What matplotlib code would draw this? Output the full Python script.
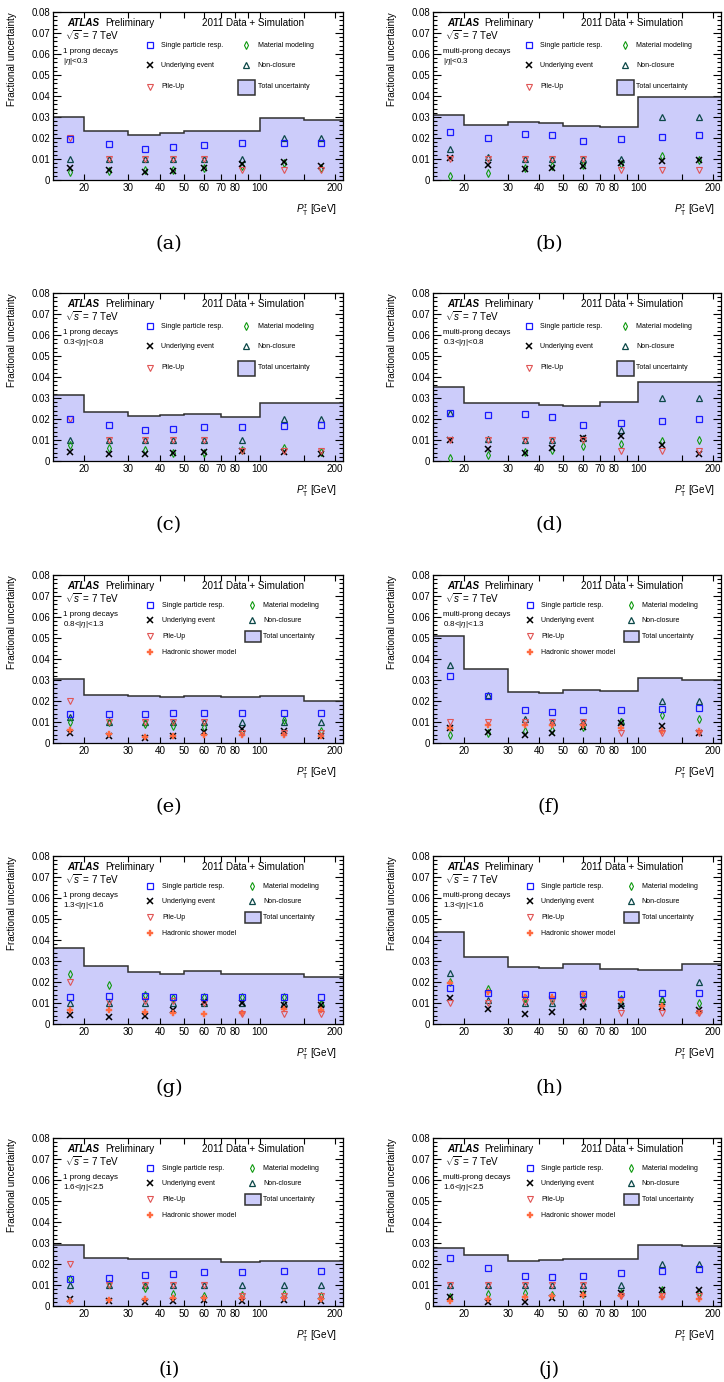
import matplotlib
matplotlib.use("Agg")
import matplotlib.pyplot as plt
from matplotlib.patches import Rectangle
from matplotlib.ticker import FixedLocator, FuncFormatter, MultipleLocator, NullFormatter

plt.rcParams['font.family'] = ['Liberation Sans', 'DejaVu Sans']
plt.rcParams['mathtext.fontset'] = 'custom'
plt.rcParams['mathtext.rm'] = 'Liberation Sans'
plt.rcParams['mathtext.it'] = 'Liberation Sans:italic'

# ---------------- data ----------------
pt_centers = [17.5, 25, 35, 45, 60, 85, 125, 175]
bin_edges = [15, 20, 30, 40, 50, 70, 100, 150, 215]
panel_tags = ['(a)', '(b)', '(c)', '(d)', '(e)', '(f)', '(g)', '(h)', '(i)', '(j)']
decay_labels = ['1 prong decays', 'multi-prong decays'] * 5
eta_labels = [r'$|\eta|$<0.3', r'$|\eta|$<0.3',
              r'0.3<$|\eta|$<0.8', r'0.3<$|\eta|$<0.8',
              r'0.8<$|\eta|$<1.3', r'0.8<$|\eta|$<1.3',
              r'1.3<$|\eta|$<1.6', r'1.3<$|\eta|$<1.6',
              r'1.6<$|\eta|$<2.5', r'1.6<$|\eta|$<2.5']

single_particle = [
    [0.0196, 0.0172, 0.0148, 0.0159, 0.0165, 0.0178, 0.0177, 0.0177],
    [0.0229, 0.0199, 0.0220, 0.0215, 0.0186, 0.0197, 0.0207, 0.0213],
    [0.0202, 0.0173, 0.0148, 0.0153, 0.0162, 0.0162, 0.0167, 0.0173],
    [0.0229, 0.0218, 0.0226, 0.0210, 0.0173, 0.0183, 0.0191, 0.0199],
    [0.0137, 0.0137, 0.0139, 0.0143, 0.0143, 0.0143, 0.0143, 0.0142],
    [0.0319, 0.0226, 0.0159, 0.0148, 0.0155, 0.0159, 0.0161, 0.0167],
    [0.0130, 0.0131, 0.0133, 0.0130, 0.0130, 0.0128, 0.0128, 0.0128],
    [0.0170, 0.0146, 0.0141, 0.0139, 0.0143, 0.0143, 0.0147, 0.0147],
    [0.0129, 0.0131, 0.0147, 0.0153, 0.0160, 0.0163, 0.0166, 0.0169],
    [0.0227, 0.0180, 0.0141, 0.0139, 0.0144, 0.0158, 0.0169, 0.0174],
]
underlying_event = [
    [0.0056, 0.0048, 0.0037, 0.0043, 0.0059, 0.0075, 0.0084, 0.0067],
    [0.0105, 0.0072, 0.0052, 0.0056, 0.0068, 0.0080, 0.0089, 0.0095],
    [0.0045, 0.0032, 0.0032, 0.0040, 0.0045, 0.0048, 0.0045, 0.0035],
    [0.0100, 0.0059, 0.0040, 0.0064, 0.0108, 0.0120, 0.0075, 0.0035],
    [0.0046, 0.0032, 0.0025, 0.0033, 0.0051, 0.0065, 0.0056, 0.0033],
    [0.0072, 0.0051, 0.0038, 0.0048, 0.0075, 0.0094, 0.0083, 0.0048],
    [0.0043, 0.0032, 0.0038, 0.0067, 0.0106, 0.0101, 0.0090, 0.0090],
    [0.0122, 0.0071, 0.0048, 0.0055, 0.0081, 0.0086, 0.0082, 0.0067],
    [0.0034, 0.0026, 0.0021, 0.0026, 0.0030, 0.0026, 0.0027, 0.0024],
    [0.0042, 0.0021, 0.0021, 0.0037, 0.0057, 0.0061, 0.0077, 0.0077],
]
pile_up = [
    [0.020, 0.010, 0.010, 0.010, 0.010, 0.005, 0.005, 0.005],
    [0.010, 0.010, 0.010, 0.010, 0.010, 0.005, 0.005, 0.005],
    [0.020, 0.010, 0.010, 0.010, 0.010, 0.005, 0.005, 0.005],
    [0.010, 0.010, 0.010, 0.010, 0.010, 0.005, 0.005, 0.005],
    [0.020, 0.010, 0.010, 0.010, 0.010, 0.005, 0.005, 0.005],
    [0.010, 0.010, 0.010, 0.010, 0.010, 0.005, 0.005, 0.005],
    [0.020, 0.0106, 0.011, 0.011, 0.010, 0.005, 0.005, 0.005],
    [0.0101, 0.0101, 0.0106, 0.011, 0.0108, 0.0052, 0.0052, 0.0052],
    [0.020, 0.010, 0.010, 0.010, 0.010, 0.005, 0.005, 0.005],
    [0.010, 0.010, 0.010, 0.010, 0.010, 0.005, 0.005, 0.005],
]
material = [
    [0.0038, 0.0045, 0.0046, 0.0048, 0.0057, 0.0068, 0.0080, 0.0059],
    [0.0019, 0.0032, 0.0056, 0.0067, 0.0073, 0.0075, 0.0115, 0.0095],
    [0.0075, 0.0064, 0.0051, 0.0040, 0.0040, 0.0052, 0.0060, 0.0045],
    [0.0016, 0.0029, 0.0043, 0.0052, 0.0070, 0.0080, 0.0095, 0.0100],
    [0.0099, 0.0100, 0.0091, 0.0081, 0.0076, 0.0051, 0.0110, 0.0059],
    [0.0037, 0.0046, 0.0059, 0.0062, 0.0076, 0.0102, 0.0131, 0.0112],
    [0.0236, 0.0184, 0.0139, 0.0122, 0.0130, 0.0130, 0.0130, 0.0097],
    [0.0201, 0.0166, 0.0125, 0.0114, 0.0130, 0.0119, 0.0111, 0.0101],
    [0.0129, 0.0105, 0.0085, 0.0059, 0.0048, 0.0053, 0.0057, 0.0048],
    [0.0045, 0.0056, 0.0061, 0.0053, 0.0057, 0.0064, 0.0075, 0.0061],
]
non_closure = [
    [0.010, 0.010, 0.010, 0.010, 0.010, 0.010, 0.020, 0.020],
    [0.0148, 0.0108, 0.010, 0.010, 0.010, 0.010, 0.030, 0.030],
    [0.010, 0.010, 0.010, 0.010, 0.010, 0.010, 0.020, 0.020],
    [0.023, 0.0103, 0.010, 0.010, 0.011, 0.0148, 0.030, 0.030],
    [0.0126, 0.010, 0.010, 0.010, 0.010, 0.010, 0.010, 0.010],
    [0.0371, 0.0229, 0.0113, 0.0099, 0.010, 0.0105, 0.020, 0.020],
    [0.010, 0.010, 0.010, 0.010, 0.010, 0.010, 0.010, 0.010],
    [0.0241, 0.0114, 0.0098, 0.0098, 0.010, 0.0098, 0.0117, 0.020],
    [0.010, 0.010, 0.010, 0.010, 0.010, 0.010, 0.010, 0.010],
    [0.010, 0.010, 0.010, 0.010, 0.010, 0.010, 0.020, 0.020],
]
hadronic_shower = [
    None, None, None, None,
    [0.0064, 0.0041, 0.0029, 0.0033, 0.0040, 0.0040, 0.0038, 0.0033],
    [0.0072, 0.0088, 0.0088, 0.0088, 0.0086, 0.0070, 0.0057, 0.0056],
    [0.0067, 0.0065, 0.0059, 0.0052, 0.0049, 0.0052, 0.0070, 0.0067],
    [0.0193, 0.0154, 0.0130, 0.0130, 0.0143, 0.0114, 0.0087, 0.0052],
    [0.0026, 0.0030, 0.0034, 0.0037, 0.0037, 0.0040, 0.0040, 0.0034],
    [0.0022, 0.0032, 0.0045, 0.0048, 0.0053, 0.0050, 0.0042, 0.0034],
]
total_unc = [
    [0.0302, 0.0234, 0.0215, 0.0223, 0.0234, 0.0235, 0.0297, 0.0285],
    [0.0310, 0.0260, 0.0274, 0.0270, 0.0255, 0.0251, 0.0394, 0.0394],
    [0.0315, 0.0234, 0.0215, 0.0218, 0.0224, 0.0210, 0.0278, 0.0275],
    [0.0353, 0.0274, 0.0274, 0.0269, 0.0262, 0.0282, 0.0377, 0.0377],
    [0.0303, 0.0228, 0.0222, 0.0220, 0.0225, 0.0220, 0.0223, 0.0199],
    [0.0510, 0.0354, 0.0245, 0.0236, 0.0252, 0.0250, 0.0311, 0.0300],
    [0.0360, 0.0276, 0.0246, 0.0238, 0.0253, 0.0236, 0.0238, 0.0222],
    [0.0436, 0.0317, 0.0272, 0.0269, 0.0285, 0.0263, 0.0255, 0.0285],
    [0.0289, 0.0227, 0.0224, 0.0222, 0.0224, 0.0211, 0.0216, 0.0212],
    [0.0276, 0.0241, 0.0216, 0.0217, 0.0225, 0.0222, 0.0291, 0.0287],
]

x_tick_values = [20, 30, 40, 50, 60, 70, 80, 100, 200]

# ---------------- styles ----------------
FILL = '#ccccfa'
EDGE = '#303030'
styles = {
    'spr': dict(marker='s', ms=4.4, mfc='none', mec='#1a1aff', mew=0.9, ls='none'),
    'ue':  dict(marker='x', ms=3.9, mec='black', mew=1.1, ls='none'),
    'pu':  dict(marker='v', ms=4.7, mfc='none', mec='#e05555', mew=0.8, ls='none'),
    'mat': dict(marker='d', ms=4.1, mfc='none', mec='#109a10', mew=0.8, ls='none'),
    'nc':  dict(marker='^', ms=4.7, mfc='none', mec='#0c4848', mew=0.9, ls='none'),
    'had': dict(marker='P', ms=4.7, mfc='#ff6a40', mec='#ff6a40', mew=0.3, ls='none'),
}

W, H = 724, 1382
fig = plt.figure(figsize=(W / 100, H / 100), dpi=100)

col_left = [53, 433]
ax_w, ax_h = 290, 168
row_top = [12, 293, 575, 856, 1138]
cap_x = [169, 549]
cap_offset = 64


def yfmt(v, pos):
    if abs(v) < 1e-9:
        return '0'
    return f'{v:.2f}'


for k in range(10):
    r, c = divmod(k, 2)
    left = col_left[c]
    w = ax_w if c == 0 else ax_w - 2
    top = row_top[r]
    ax = fig.add_axes([left / W, 1 - (top + ax_h) / H, w / W, ax_h / H])
    ax.set_xscale('log')
    ax.set_xlim(15, 215)
    ax.set_ylim(0, 0.08)

    ax.stairs(total_unc[k], bin_edges, fill=True, color=FILL, lw=0, zorder=1)
    ax.stairs(total_unc[k], bin_edges, baseline=None, color=EDGE, lw=1.1, zorder=2)

    ax.plot(pt_centers, non_closure[k], zorder=3, **styles['nc'])
    ax.plot(pt_centers, material[k], zorder=3, **styles['mat'])
    ax.plot(pt_centers, underlying_event[k], zorder=4, **styles['ue'])
    if hadronic_shower[k] is not None:
        ax.plot(pt_centers, hadronic_shower[k], zorder=4, **styles['had'])
    ax.plot(pt_centers, pile_up[k], zorder=5, **styles['pu'])
    ax.plot(pt_centers, single_particle[k], zorder=5, **styles['spr'])

    # axes styling
    ax.xaxis.set_major_locator(FixedLocator(x_tick_values))
    ax.xaxis.set_major_formatter(FuncFormatter(lambda v, p: f'{int(round(v))}'))
    ax.xaxis.set_minor_locator(FixedLocator([90, 150]))
    ax.xaxis.set_minor_formatter(NullFormatter())
    ax.yaxis.set_major_locator(MultipleLocator(0.01))
    ax.yaxis.set_minor_locator(MultipleLocator(0.002))
    ax.yaxis.set_major_formatter(FuncFormatter(yfmt))
    ax.tick_params(which='both', direction='in', top=True, right=True,
                   width=0.8, colors='black')
    ax.tick_params(axis='y', which='major', length=6, pad=2, labelsize=6.9)
    ax.tick_params(axis='y', which='minor', length=3)
    ax.tick_params(axis='x', which='major', length=4, pad=2.0, labelsize=7.1)
    ax.tick_params(axis='x', which='minor', length=4)
    for sp in ax.spines.values():
        sp.set_linewidth(0.9)

    ax.text(-0.142, 1.0, 'Fractional uncertainty', transform=ax.transAxes,
            rotation=90, ha='center', va='top', fontsize=7.1)
    ax.text(0.979, -0.179, r'$P_{\mathrm{T}}^{\tau}$ [GeV]', transform=ax.transAxes,
            ha='right', va='center', fontsize=7.2)

    # header texts
    ax.text(0.048, 0.932, 'ATLAS', transform=ax.transAxes, ha='left', va='center',
            fontsize=7.1, fontweight='bold', fontstyle='italic')
    ax.text(0.179, 0.932, 'Preliminary', transform=ax.transAxes, ha='left', va='center',
            fontsize=7.1)
    ax.text(0.514, 0.932, '2011 Data + Simulation', transform=ax.transAxes, ha='left',
            va='center', fontsize=7.1)
    ax.text(0.042, 0.865, r'$\sqrt{s}$ = 7 TeV', transform=ax.transAxes, ha='left',
            va='center', fontsize=7.1)
    ax.text(0.035, 0.764, decay_labels[k], transform=ax.transAxes, ha='left',
            va='center', fontsize=5.8)
    ax.text(0.035, 0.708, eta_labels[k], transform=ax.transAxes, ha='left',
            va='center', fontsize=5.8)

    # legend (manual, ROOT-like)
    four = hadronic_shower[k] is not None
    if four:
        rows = [0.821, 0.731, 0.635, 0.541]
        m1, t1, m2, t2 = 0.336, 0.376, 0.686, 0.724
        box = (0.662, 0.601, 0.055, 0.067)
    else:
        rows = [0.801, 0.683, 0.556]
        m1, t1, m2, t2 = 0.334, 0.372, 0.666, 0.706
        box = (0.638, 0.508, 0.059, 0.088)
    col1 = [('spr', 'Single particle resp.'), ('ue', 'Underlying event'), ('pu', 'Pile-Up')]
    if four:
        col1.append(('had', 'Hadronic shower model'))
    col2 = [('mat', 'Material modeling'), ('nc', 'Non-closure')]
    for i, (key, lab) in enumerate(col1):
        ax.plot([m1], [rows[i]], transform=ax.transAxes, clip_on=False, zorder=6,
                **styles[key])
        ax.text(t1, rows[i], lab, transform=ax.transAxes, ha='left', va='center',
                fontsize=5.0)
    for i, (key, lab) in enumerate(col2):
        ax.plot([m2], [rows[i]], transform=ax.transAxes, clip_on=False, zorder=6,
                **styles[key])
        ax.text(t2, rows[i], lab, transform=ax.transAxes, ha='left', va='center',
                fontsize=5.0)
    ax.add_patch(Rectangle((box[0], box[1]), box[2], box[3], transform=ax.transAxes,
                           facecolor=FILL, edgecolor=EDGE, lw=1.1, zorder=6))
    ax.text(t2, rows[2], 'Total uncertainty', transform=ax.transAxes, ha='left',
            va='center', fontsize=5.0)

    # caption
    fig.text(cap_x[c] / W, 1 - (top + ax_h + cap_offset) / H, panel_tags[k],
             ha='center', va='center', fontsize=14,
             family=['DejaVu Serif', 'Liberation Serif'])

fig.savefig('out.png', dpi=100)
